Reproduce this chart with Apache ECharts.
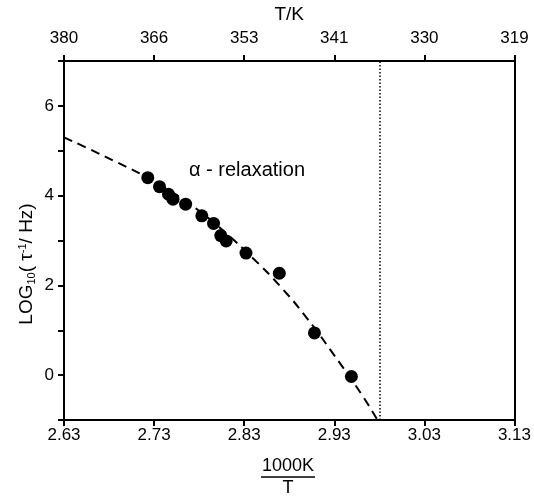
<!DOCTYPE html>
<html>
<head>
<meta charset="utf-8">
<script src="https://cdn.jsdelivr.net/npm/echarts@6/dist/echarts.min.js"></script>
<style>
  html, body { margin: 0; padding: 0; background: #fff; }
  #chart { width: 534px; height: 496px; }
</style>
</head>
<body>
<div id="chart"></div>
<script>
// measured points: 1000K/T vs log10(1/tau)
let pointX = [2.723, 2.736, 2.746, 2.751, 2.765, 2.783, 2.796, 2.804, 2.810, 2.832, 2.869, 2.908, 2.949]
let pointY = [4.40, 4.20, 4.03, 3.92, 3.81, 3.55, 3.38, 3.11, 2.99, 2.72, 2.27, 0.94, -0.03]

// dashed fit curve
let curveX = [2.63, 2.66, 2.69, 2.72, 2.75, 2.78, 2.81, 2.84, 2.87, 2.90, 2.93, 2.96, 2.978]
let curveY = [5.30, 5.02, 4.73, 4.43, 4.08, 3.66, 3.16, 2.60, 1.98, 1.26, 0.44, -0.42, -1.0]

// dotted vertical line
let glassX = 2.985

// top axis tick labels (T/K)
let topTickLabels = ['380', '366', '353', '341', '330', '319']

let font = 'Liberation Sans'

let chart = echarts.init(document.getElementById('chart'))

let pts = pointX.map((x, i) => [x, pointY[i]])
let curve = curveX.map((x, i) => [x, curveY[i]])

let axisLine = { onZero: false, lineStyle: { color: '#000', width: 2 } }
let axisTick = { show: true, inside: false, length: 6, lineStyle: { color: '#000', width: 2 } }

let option = {
  animation: false,
  grid: { left: 64, right: 19, top: 57, bottom: 76 },
  xAxis: [
    {
      type: 'value',
      position: 'bottom',
      min: 2.63,
      max: 3.13,
      interval: 0.1,
      axisLine: axisLine,
      axisTick: axisTick,
      axisLabel: {
        margin: 7,
        color: '#000',
        fontFamily: font,
        fontSize: 17,
        formatter: v => v.toFixed(2)
      },
      splitLine: { show: false }
    },
    {
      type: 'value',
      position: 'top',
      min: 2.63,
      max: 3.13,
      interval: 0.1,
      name: 'T/K',
      nameLocation: 'middle',
      nameGap: 37,
      nameTextStyle: { color: '#000', fontFamily: font, fontSize: 19 },
      axisLine: axisLine,
      axisTick: axisTick,
      axisLabel: {
        margin: 14,
        color: '#000',
        fontFamily: font,
        fontSize: 17,
        formatter: (v, i) => topTickLabels[i]
      },
      splitLine: { show: false }
    }
  ],
  yAxis: [
    {
      type: 'value',
      position: 'left',
      min: -1,
      max: 7,
      interval: 1,
      axisLine: axisLine,
      axisTick: axisTick,
      axisLabel: {
        margin: 10,
        color: '#000',
        fontFamily: font,
        fontSize: 17,
        formatter: v => (v >= 0 && v % 2 === 0) ? String(v) : ''
      },
      splitLine: { show: false }
    },
    {
      type: 'value',
      position: 'right',
      min: -1,
      max: 7,
      axisLine: { show: true, onZero: false, lineStyle: { color: '#000', width: 2 } },
      axisTick: { show: false },
      axisLabel: { show: false },
      splitLine: { show: false }
    }
  ],
  series: [
    {
      type: 'line',
      data: curve,
      smooth: true,
      showSymbol: false,
      symbol: 'none',
      lineStyle: { color: '#000', width: 2, type: [9, 6] },
      markLine: {
        silent: true,
        symbol: 'none',
        label: { show: false },
        lineStyle: { color: '#000', width: 1.5, type: [1.5, 2] },
        data: [{ xAxis: glassX }]
      },
      z: 2
    },
    {
      type: 'scatter',
      data: pts,
      symbol: 'circle',
      symbolSize: 13,
      itemStyle: { color: '#000', opacity: 1 },
      z: 3
    }
  ],
  graphic: [
    {
      type: 'text',
      x: 247,
      y: 170,
      style: {
        text: 'α - relaxation',
        fill: '#000',
        font: '20px "Liberation Sans"',
        align: 'center',
        verticalAlign: 'middle'
      }
    },
    {
      type: 'text',
      x: 27,
      y: 264,
      rotation: Math.PI / 2,
      style: {
        text: 'LOG{sub|10}( τ{sup|-1}/ Hz)',
        fill: '#000',
        font: '19px "Liberation Sans"',
        align: 'center',
        verticalAlign: 'middle',
        rich: {
          sub: { fontSize: 11, fontFamily: font, padding: [9, 0, 0, 0], fill: '#000' },
          sup: { fontSize: 11, fontFamily: font, padding: [0, 0, 9, 0], fill: '#000' }
        }
      }
    },
    {
      type: 'text',
      x: 288,
      y: 466,
      style: {
        text: '1000K',
        fill: '#000',
        font: '18px "Liberation Sans"',
        align: 'center',
        verticalAlign: 'middle'
      }
    },
    {
      type: 'line',
      shape: { x1: 261, y1: 477, x2: 315, y2: 477 },
      style: { stroke: '#000', lineWidth: 1.5 }
    },
    {
      type: 'text',
      x: 288,
      y: 488,
      style: {
        text: 'T',
        fill: '#000',
        font: '18px "Liberation Sans"',
        align: 'center',
        verticalAlign: 'middle'
      }
    }
  ]
}

chart.setOption(option)
</script>
</body>
</html>
